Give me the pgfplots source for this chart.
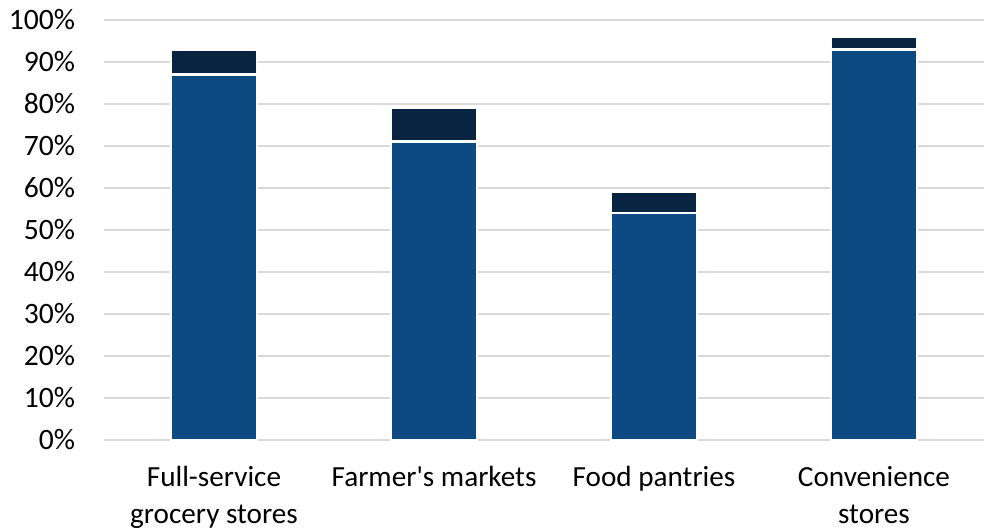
\documentclass[border=0pt]{standalone}
\usepackage{fontspec}
\setmainfont{Carlito}
\usepackage{pgfplots}
\pgfplotsset{compat=1.18}
\definecolor{lowblue}{RGB}{13,74,130}
\definecolor{topnavy}{RGB}{8,36,64}
\definecolor{gridgray}{RGB}{217,217,217}
\begin{document}
\begin{tikzpicture}
\begin{axis}[
  at={(0,0)}, anchor=south west,
  scale only axis, width=440pt, height=210pt,
  ybar stacked, bar width=0.39,
  xmin=-0.5, xmax=3.5, ymin=0, ymax=100,
  xtick={0,1,2,3},
  xticklabels={{Full-service\\grocery stores},{Farmer\textquotesingle s markets},{Food pantries},{Convenience\\stores}},
  xticklabel style={align=center, font=\fontsize{14.6}{18.5}\selectfont, yshift=-9.5pt},
  ytick={0,10,...,100},
  yticklabel={\pgfmathprintnumber{\tick}\%},
  yticklabel style={font=\fontsize{14.8}{16}\selectfont, xshift=-11pt},
  /pgf/number format/assume math mode=true,
  axis line style={draw=none},
  major tick length=0pt,
  ymajorgrids, grid style={gridgray, line width=1pt},
  clip=false,
]
\addplot[fill=lowblue, draw=white, line width=1.3pt] coordinates {(0,87) (1,71) (2,54) (3,93)};
\addplot[fill=topnavy, draw=white, line width=1.3pt] coordinates {(0,6) (1,8) (2,5) (3,3)};
\end{axis}
\pgfresetboundingbox
\path (-52pt,-44.5pt) rectangle (443pt,220pt);
\end{tikzpicture}
\end{document}
